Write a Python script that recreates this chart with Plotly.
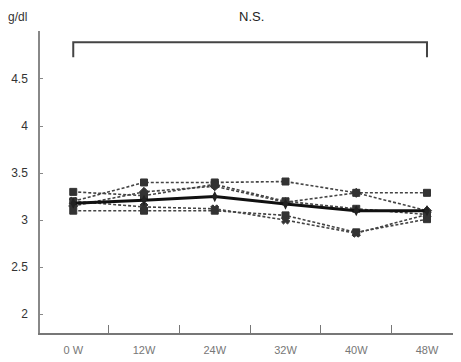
import plotly.graph_objects as go

weeks = ["0 W", "12W", "24W", "32W", "40W", "48W"]
mean_vals = [3.18, 3.21, 3.25, 3.17, 3.10, 3.10]
s1 = [3.20, 3.40, 3.40, 3.41, 3.29, 3.29]
s2 = [3.30, 3.26, 3.38, 3.20, 3.12, 3.06]
s3 = [3.15, 3.30, 3.36, 3.19, 3.29, 3.10]
s4 = [3.10, 3.10, 3.10, 3.05, 2.87, 3.01]
s5 = [3.20, 3.14, 3.12, 3.00, 2.86, 3.06]
series = [s1, s2, s3, s4, s5]
symbols = ["square", "square", "diamond", "square", "x"]
yticks = [2, 2.5, 3, 3.5, 4, 4.5]
ytick_text = ["2", "2.5", "3", "3.5", "4", "4.5"]
bracket_top = 4.89
bracket_drop = 4.73

xi = list(range(len(weeks)))
fig = go.Figure()

for s, sym in zip(series, symbols):
    fig.add_trace(go.Scatter(
        x=xi, y=s, mode="lines+markers",
        line=dict(color="#444", width=1.6, dash="3px,2px"),
        marker=dict(symbol=sym, size=7, color="#333",
                    line=dict(color="#333", width=1)),
        showlegend=False))

fig.add_trace(go.Scatter(
    x=xi, y=mean_vals, mode="lines+markers",
    line=dict(color="#111", width=3),
    marker=dict(symbol="diamond-tall", size=8, color="#222"),
    showlegend=False))

# N.S. bracket
fig.add_trace(go.Scatter(
    x=[xi[0], xi[0], xi[-1], xi[-1]],
    y=[bracket_drop, bracket_top, bracket_top, bracket_drop],
    mode="lines", line=dict(color="#444", width=2),
    showlegend=False))

W, H = 461, 362
off = 8  # page body margin
l, t = 32, 23
pw, ph = 416, 302
r = W - l - pw
b = H - t - ph


def px(sx):
    return (sx - off - l) / pw


def py(sy):
    return (H - b - (sy - off)) / ph


fig.update_layout(
    width=W, height=H,
    margin=dict(l=l, r=r, t=t, b=b),
    paper_bgcolor="white", plot_bgcolor="white",
    font=dict(family="Liberation Sans, Arial, sans-serif", color="#333"),
    xaxis=dict(
        range=[-0.47, 5.41], tickmode="array", tickvals=xi, ticktext=weeks,
        ticks="", showgrid=False, zeroline=False, automargin=False,
        showline=True, linecolor="#777", linewidth=1.5,
        tickfont=dict(size=11, color="#777"), ticklabelstandoff=6,
        minor=dict(tickvals=[0.5, 1.5, 2.5, 3.5, 4.5], ticks="inside",
                   ticklen=8, tickcolor="#777", tickwidth=1, showgrid=False),
    ),
    yaxis=dict(
        range=[1.8, 5.01], tickmode="array", tickvals=yticks, ticktext=ytick_text,
        ticks="inside", ticklen=3, tickcolor="#888", showgrid=False,
        zeroline=False, showline=True, linecolor="#888", linewidth=1.5,
        automargin=False, tickfont=dict(size=12, color="#333"),
        ticklabelstandoff=8,
    ),
    annotations=[
        dict(text="N.S.", x=px(251), y=py(8.5),
             xref="paper", yref="paper", showarrow=False,
             xanchor="center", yanchor="top", borderpad=0,
             font=dict(size=13, color="#222")),
        dict(text="g/dl", x=px(17), y=py(17),
             xref="paper", yref="paper", showarrow=False,
             xanchor="center", yanchor="middle",
             font=dict(size=12, color="#333")),
    ],
)

fig.write_html("out.html")
